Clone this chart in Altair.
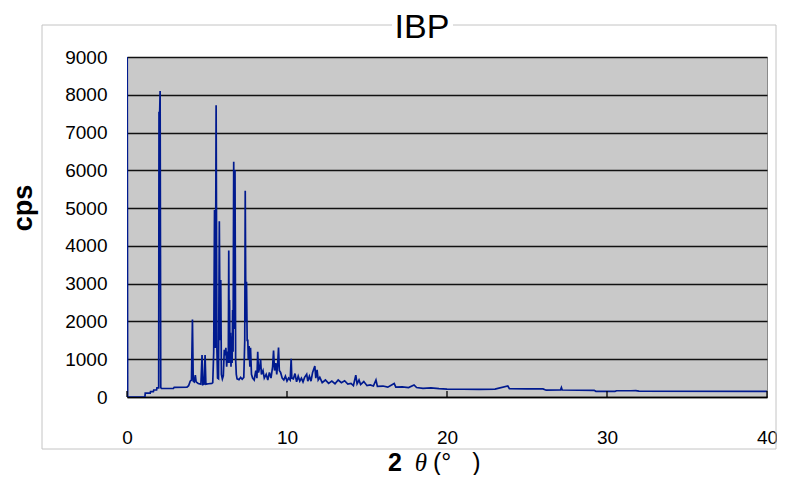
import altair as alt
import pandas as pd

TITLE = "IBP"
X_TITLE_NUM = "2"
X_TITLE_THETA = "θ"
X_TITLE_UNIT = "(°\u00a0\u00a0\u00a0)"
Y_TITLE = "cps"
X_TICKS = [0, 10, 20, 30, 40]
Y_TICKS = [0, 1000, 2000, 3000, 4000, 5000, 6000, 7000, 8000, 9000]

TWO_THETA = [
    0.00, 0.04, 1.12, 1.14, 1.45, 1.47, 1.65, 1.67, 1.85, 1.87, 1.98,
    2.00, 2.04, 2.07, 2.11, 2.15, 2.90, 2.95, 3.75, 3.85, 3.95, 4.03,
    4.09, 4.14, 4.20, 4.27, 4.32, 4.45, 4.62, 4.69, 4.74, 4.82, 4.88,
    4.93, 5.10, 5.30, 5.36, 5.42, 5.47, 5.52, 5.57, 5.62, 5.66, 5.72,
    5.77, 5.82, 5.86, 5.90, 5.96, 6.02, 6.08, 6.13, 6.18, 6.23, 6.28,
    6.33, 6.36, 6.39, 6.41, 6.44, 6.47, 6.50, 6.54, 6.57, 6.60, 6.63,
    6.67, 6.71, 6.75, 6.79, 6.83, 6.88, 7.00, 7.10, 7.20, 7.30, 7.36,
    7.39, 7.43, 7.47, 7.51, 7.55, 7.58, 7.63, 7.68, 7.72, 7.78, 7.85,
    7.95, 8.05, 8.12, 8.17, 8.22, 8.30, 8.35, 8.40, 8.50, 8.58, 8.70,
    8.80, 8.90, 9.00, 9.10, 9.16, 9.22, 9.30, 9.36, 9.42, 9.47, 9.52,
    9.60, 9.70, 9.80, 9.90, 10.00, 10.10, 10.20, 10.26, 10.30, 10.40,
    10.50, 10.60, 10.70, 10.80, 10.90, 11.00, 11.10, 11.23, 11.30,
    11.40, 11.50, 11.60, 11.74, 11.80, 11.88, 11.95, 12.05, 12.20,
    12.40, 12.60, 12.80, 13.00, 13.20, 13.40, 13.60, 13.80, 14.00,
    14.15, 14.30, 14.38, 14.50, 14.60, 14.80, 15.00, 15.20, 15.40,
    15.56, 15.65, 16.00, 16.30, 16.70, 16.80, 17.20, 17.60, 17.94,
    18.10, 18.50, 19.00, 19.50, 20.00, 21.00, 22.00, 23.00, 23.80,
    23.90, 25.00, 26.00, 26.20, 27.10, 27.15, 27.20, 29.20, 29.30,
    30.50, 30.60, 31.50, 31.80, 32.00, 40.00,
]
CPS = [
    13500, 0, 0, 100, 100, 140, 140, 185, 185, 240, 240,
    7550, 7500, 8100, 250, 225, 225, 256, 260, 300, 420, 450,
    2050, 420, 400, 580, 400, 357, 340, 1110, 330, 340, 1110,
    340, 350, 360, 380, 1200, 4950, 1300, 7720, 1250, 500, 480,
    4650, 1500, 3100, 600, 480, 560, 1250, 1100, 1300, 800, 1200,
    900, 3880, 1200, 2570, 900, 1700, 800, 1600, 900, 2300, 1200,
    6230, 1800, 6010, 1000, 600, 480, 460, 520, 470, 520, 1500,
    5460, 2000, 3050, 1500, 1500, 1000, 1350, 800, 1300, 600, 500,
    450, 700, 500, 1200, 650, 800, 1000, 600, 700, 500, 600,
    450, 650, 500, 800, 1230, 700, 900, 600, 900, 1310, 700,
    650, 500, 450, 550, 420, 500, 450, 1010, 500, 480,
    620, 400, 550, 420, 500, 400, 520, 600, 420,
    550, 420, 650, 820, 500, 720, 450, 520, 380,
    450, 360, 420, 350, 450, 380, 430, 340, 360,
    300, 580, 350, 450, 330, 410, 300, 320, 290,
    450, 280, 290, 260, 360, 260, 270, 250, 320,
    250, 230, 240, 220, 210, 205, 200, 210, 290,
    220, 215, 215, 180, 190, 250, 185, 175, 150,
    150, 165, 165, 170, 155, 150,
]

W, H = 640, 340

df = pd.DataFrame({"x": TWO_THETA, "y": CPS})
one = pd.DataFrame({"a": [0]})
ticks_df = pd.DataFrame({"x": X_TICKS})

xscale = alt.Scale(domain=[0, 40], nice=False, zero=False)
yscale = alt.Scale(domain=[0, 9000], nice=False)

FL, FR, FT, FB = -85, W + 9, -32, 392
frame_color = "#c4c4c4"


def seg(x1, x2, y1, y2):
    return alt.Chart(one).mark_rule(color=frame_color, strokeWidth=1).encode(
        x=alt.value(x1), x2=alt.value(x2), y=alt.value(y1), y2=alt.value(y2)
    )


frame = [
    seg(FL, 265, FT, FT),
    seg(326, FR, FT, FT),
    seg(FL, FR, FB, FB),
    seg(FL, FL, FT, FB),
    seg(FR, FR, FT, FB),
]

line = alt.Chart(df).mark_line(
    color="#001a8f", strokeWidth=1.7, clip=True, interpolate="linear"
).encode(
    x=alt.X("x:Q", scale=xscale,
            axis=alt.Axis(values=X_TICKS, title=None, grid=False, ticks=False,
                          domainColor="black", domainWidth=1.5, labelFlush=False,
                          labelFont="Liberation Sans", labelFontSize=19,
                          labelColor="black", labelPadding=31)),
    y=alt.Y("y:Q", scale=yscale,
            axis=alt.Axis(values=Y_TICKS, title=None, grid=True,
                          gridColor="#111111", gridWidth=1.5,
                          ticks=False, domain=False, format="d",
                          labelFont="Liberation Sans", labelFontSize=19,
                          labelColor="black", labelPadding=20)),
)

tick_marks = alt.Chart(ticks_df).mark_rule(color="black", strokeWidth=1.3).encode(
    x=alt.X("x:Q", scale=xscale), y=alt.value(H - 6), y2=alt.value(H)
)

title = alt.Chart(pd.DataFrame({"t": [TITLE]})).mark_text(
    font="Liberation Sans", fontSize=34, align="center", baseline="middle", color="black"
).encode(text="t:N", x=alt.value(295), y=alt.value(-29))

ytitle = alt.Chart(pd.DataFrame({"t": [Y_TITLE]})).mark_text(
    font="Liberation Sans", fontSize=27, fontWeight="bold", angle=270,
    align="center", baseline="middle", color="black"
).encode(text="t:N", x=alt.value(-103), y=alt.value(151))

XT_Y = H + 66

xt1 = alt.Chart(pd.DataFrame({"t": [X_TITLE_NUM]})).mark_text(
    font="Liberation Sans", fontSize=25, fontWeight="bold",
    align="center", baseline="middle", color="black"
).encode(text="t:N", x=alt.value(268), y=alt.value(XT_Y))

xt2 = alt.Chart(pd.DataFrame({"t": [X_TITLE_THETA]})).mark_text(
    font="Liberation Serif", fontSize=25, fontStyle="italic",
    align="center", baseline="middle", color="black"
).encode(text="t:N", x=alt.value(294), y=alt.value(XT_Y))

xt3 = alt.Chart(pd.DataFrame({"t": [X_TITLE_UNIT]})).mark_text(
    font="Liberation Sans", fontSize=25,
    align="left", baseline="middle", color="black"
).encode(text="t:N", x=alt.value(306), y=alt.value(XT_Y))

chart = alt.layer(*frame, line, tick_marks, title, ytitle, xt1, xt2, xt3).properties(
    width=W, height=H,
    autosize=alt.AutoSizeParams(type="none"),
    padding={"left": 119, "top": 49, "right": 10, "bottom": 78},
    background="white",
).configure_view(fill="#c9c9c9", stroke="#8a8a8a", strokeWidth=1)

chart.save("out.html", embed_options={"renderer": "svg", "actions": False})
